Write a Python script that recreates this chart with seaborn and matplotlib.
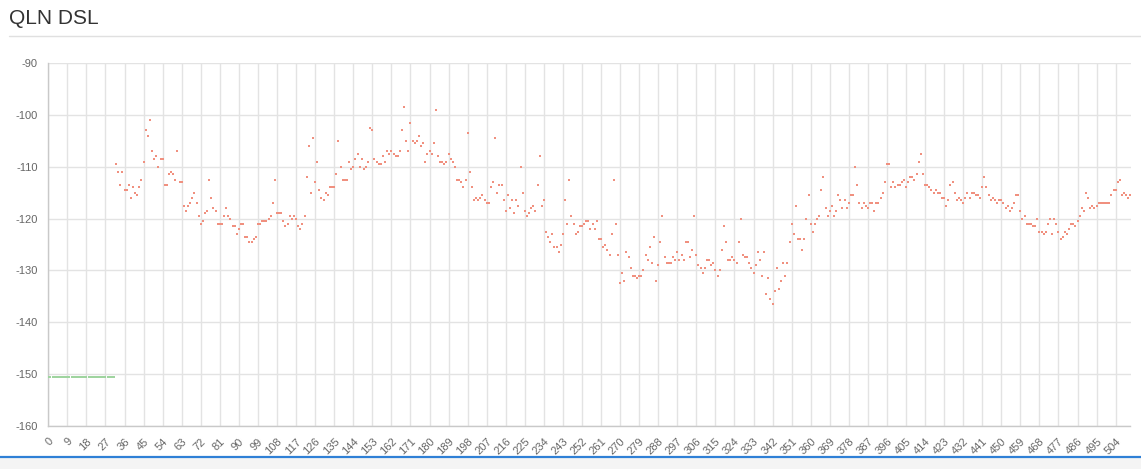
import numpy as np
import pandas as pd
import matplotlib
matplotlib.use("Agg")
import matplotlib.pyplot as plt
import seaborn as sns
from matplotlib.lines import Line2D
from matplotlib.patches import Rectangle

# ---------------- data ----------------
title = "QLN DSL"

green_tones = list(range(0, 32))
green_values = [-150.5, -150.5, -150.5, -150.5, -150.5, -150.5, -150.5, -150.5,
                -150.5, -150.5, -150.5, -150.5, -150.5, -150.5, -150.5, -150.5,
                -150.5, -150.5, -150.5, -150.5, -150.5, -150.5, -150.5, -150.5,
                -150.5, -150.5, -150.5, -150.5, -150.5, -150.5, -150.5, -150.5]

red_tones = list(range(32, 512))
red_values = [
    -109.5, -111.0, -113.5, -111.0, -114.5, -114.5, -113.5, -116.0,                  # 32-39
    -114.0, -115.0, -115.5, -114.0, -112.5, -109.0, -103.0, -104.0, -101.0, -107.0,  # 40
    -108.5, -108.0, -110.0, -108.5, -108.5, -113.5, -113.5, -111.5, -111.0, -111.5,  # 50
    -112.5, -107.0, -113.0, -113.0, -117.5, -118.5, -117.5, -117.0, -116.0, -115.0,  # 60
    -117.0, -119.5, -121.0, -120.5, -119.0, -118.5, -112.5, -116.0, -118.0, -118.5,  # 70
    -121.0, -121.0, -121.0, -119.5, -118.0, -119.5, -120.0, -121.5, -121.5, -123.0,  # 80
    -122.0, -121.0, -121.0, -123.5, -123.5, -124.5, -124.5, -124.0, -123.5, -121.0,  # 90
    -121.0, -120.5, -120.5, -120.5, -120.0, -119.5, -117.0, -112.5, -119.0, -119.0,  # 100
    -119.0, -120.5, -121.5, -121.0, -119.5, -120.0, -119.5, -120.0, -121.5, -122.0,  # 110
    -121.0, -119.5, -112.0, -106.0, -115.0, -104.5, -113.0, -109.0, -114.5, -116.0,  # 120
    -116.5, -115.0, -115.5, -114.0, -114.0, -114.0, -111.5, -105.0, -110.0, -112.5,  # 130
    -112.5, -112.5, -109.0, -110.5, -110.0, -108.5, -107.5, -110.0, -108.5, -110.5,  # 140
    -110.0, -109.0, -102.5, -103.0, -108.5, -109.0, -109.5, -109.5, -108.0, -109.0,  # 150
    -107.0, -107.5, -107.0, -107.5, -108.0, -108.0, -107.0, -103.0, -98.5, -105.0,   # 160
    -107.0, -101.5, -105.0, -105.5, -105.0, -104.0, -106.0, -105.5, -109.0, -107.5,  # 170
    -107.0, -107.5, -105.5, -99.0, -108.0, -109.0, -109.0, -109.5, -109.0, -107.5,   # 180
    -108.5, -109.0, -110.0, -112.5, -112.5, -113.0, -114.0, -112.5, -103.5, -111.0,  # 190
    -114.0, -116.5, -116.0, -116.5, -116.0, -115.5, -116.5, -117.0, -117.0, -114.0,  # 200
    -113.0, -104.5, -115.0, -113.5, -113.5, -116.5, -118.5, -115.5, -118.0, -116.5,  # 210
    -119.0, -116.5, -117.5, -110.0, -115.0, -118.5, -119.5, -119.0, -118.0, -117.5,  # 220
    -118.5, -113.5, -108.0, -117.5, -116.5, -122.5, -123.5, -124.5, -123.0, -125.5,  # 230
    -125.5, -126.5, -125.0, -123.0, -116.5, -121.0, -112.5, -119.5, -121.0, -123.0,  # 240
    -122.5, -121.5, -121.5, -121.0, -120.5, -120.5, -122.0, -121.0, -122.0, -120.5,  # 250
    -124.0, -124.0, -125.5, -125.0, -126.0, -127.0, -123.0, -112.5, -121.0, -127.0,  # 260
    -132.5, -130.5, -132.0, -126.5, -127.5, -129.5, -131.0, -131.0, -131.5, -131.0,  # 270
    -131.0, -130.0, -127.0, -128.0, -125.5, -128.5, -123.5, -132.0, -129.0, -124.5,  # 280
    -119.5, -127.5, -128.5, -128.5, -128.5, -127.5, -128.0, -126.5, -128.0, -127.0,  # 290
    -128.0, -124.5, -124.5, -127.5, -126.0, -119.5, -127.0, -129.0, -129.5, -130.5,  # 300
    -129.5, -128.0, -128.0, -129.0, -128.5, -130.0, -131.0, -130.0, -126.0, -121.5,  # 310
    -124.5, -128.0, -128.0, -127.5, -128.0, -128.5, -124.5, -120.0, -127.0, -127.5,  # 320
    -127.5, -128.5, -129.5, -130.5, -129.0, -126.5, -128.0, -131.0, -126.5, -134.5,  # 330
    -131.5, -135.5, -136.5, -134.0, -129.5, -133.5, -132.0, -128.5, -131.0, -128.5,  # 340
    -124.5, -121.0, -123.0, -117.5, -124.0, -124.0, -126.0, -124.0, -120.0, -115.5,  # 350
    -121.0, -122.5, -121.0, -120.0, -119.5, -114.5, -112.0, -118.0, -119.5, -118.5,  # 360
    -117.5, -119.5, -118.5, -115.5, -116.5, -118.0, -116.5, -118.0, -117.0, -115.5,  # 370
    -115.5, -110.0, -113.5, -117.0, -118.0, -117.0, -117.5, -118.0, -117.0, -117.0,  # 380
    -118.5, -117.0, -117.0, -116.0, -115.0, -113.0, -109.5, -109.5, -114.0, -113.0,  # 390
    -114.0, -113.5, -113.5, -113.0, -112.5, -114.0, -113.0, -112.0, -112.0, -112.5,  # 400
    -111.5, -109.0, -107.5, -111.5, -113.5, -113.5, -114.0, -114.5, -115.0, -114.5,  # 410
    -115.0, -115.0, -116.0, -116.0, -117.5, -116.5, -113.5, -113.0, -115.0, -116.5,  # 420
    -116.0, -116.5, -117.0, -116.0, -115.0, -116.0, -115.0, -115.0, -115.5, -115.5,  # 430
    -116.0, -114.0, -112.0, -114.0, -115.5, -116.5, -116.0, -116.5, -117.0, -116.5,  # 440
    -116.5, -117.0, -118.0, -117.5, -118.5, -118.0, -117.0, -115.5, -115.5, -118.5,  # 450
    -120.0, -119.5, -121.0, -121.0, -121.0, -121.5, -121.5, -120.0, -122.5, -122.5,  # 460
    -123.0, -122.5, -121.0, -120.0, -123.0, -120.0, -121.0, -122.5, -124.0, -123.5,  # 470
    -122.5, -123.0, -122.0, -121.0, -121.0, -121.5, -120.5, -119.5, -118.0, -118.5,  # 480
    -115.0, -116.0, -118.0, -117.5, -118.0, -117.5, -117.0, -117.0, -117.0, -117.0,  # 490
    -117.0, -117.0, -115.5, -114.5, -114.5, -113.0, -112.5, -115.5, -115.0, -115.5,  # 500
    -116.0, -115.5,                                                                  # 510
]

x_ticks = [0, 9, 18, 27, 36, 45, 54, 63, 72, 81, 90, 99, 108, 117, 126, 135, 144,
           153, 162, 171, 180, 189, 198, 207, 216, 225, 234, 243, 252, 261, 270,
           279, 288, 297, 306, 315, 324, 333, 342, 351, 360, 369, 378, 387, 396,
           405, 414, 423, 432, 441, 450, 459, 468, 477, 486, 495, 504]
y_ticks = [-160, -150, -140, -130, -120, -110, -100, -90]

# ---------------- figure ----------------
sns.set_style("white")
plt.rcParams['font.family'] = ['Liberation Sans', 'DejaVu Sans']

W, H = 1141, 469
fig = plt.figure(figsize=(W / 100, H / 100), dpi=100)
left_px, right_px, top_px, bot_px = 48.3, 1130.5, 63.0, 426.0
ax = fig.add_axes([left_px / W, 1 - bot_px / H, (right_px - left_px) / W, (bot_px - top_px) / H])

df_green = pd.DataFrame({"tone": green_tones, "qln": green_values})
df_red = pd.DataFrame({"tone": red_tones, "qln": red_values})

sns.scatterplot(data=df_green, x="tone", y="qln", color="#9fd49f", marker="s",
                s=0.6, linewidth=0, ax=ax, legend=False, zorder=3)
sns.scatterplot(data=df_red, x="tone", y="qln", color="#f0907f", marker="s",
                s=2.0, linewidth=0, ax=ax, legend=False, zorder=3)

ax.set_xlim(0, 511)
ax.set_ylim(-160, -90)
ax.set_xticks(x_ticks)
ax.set_yticks(y_ticks)
ax.set_xticklabels([str(t) for t in x_ticks], rotation=45, ha="right",
                   rotation_mode="anchor")
ax.set_yticklabels([str(t) for t in y_ticks])
ax.set_xlabel("")
ax.set_ylabel("")

ax.grid(True, color="#e3e3e3", linewidth=1.0)
ax.set_axisbelow(True)
ax.tick_params(axis="both", which="both", length=5.5, width=1.0, color="#e3e3e3",
               labelcolor="#666666", labelsize=8)
ax.tick_params(axis="y", pad=2)
ax.tick_params(axis="x", pad=2)

for side in ["top", "right"]:
    ax.spines[side].set_visible(False)
for side in ["left", "bottom"]:
    ax.spines[side].set_color("#c9c9c9")
    ax.spines[side].set_linewidth(1.0)

# title and decorations
fig.text(9 / W, 1 - 23.5 / H, title, fontsize=15, color="#333333", va="baseline", ha="left")
fig.add_artist(Line2D([9 / W, 1.0], [1 - 36 / H, 1 - 36 / H], color="#e0e0e0", linewidth=1.0))
fig.add_artist(Rectangle((0, 0), 1, 1 - 458 / H, transform=fig.transFigure,
                         facecolor="#f4f4f4", edgecolor="none"))
fig.add_artist(Line2D([0, 1.0], [1 - 456.5 / H, 1 - 456.5 / H], color="#2f80d6", linewidth=1.6))

fig.savefig("out.png", dpi=100)
